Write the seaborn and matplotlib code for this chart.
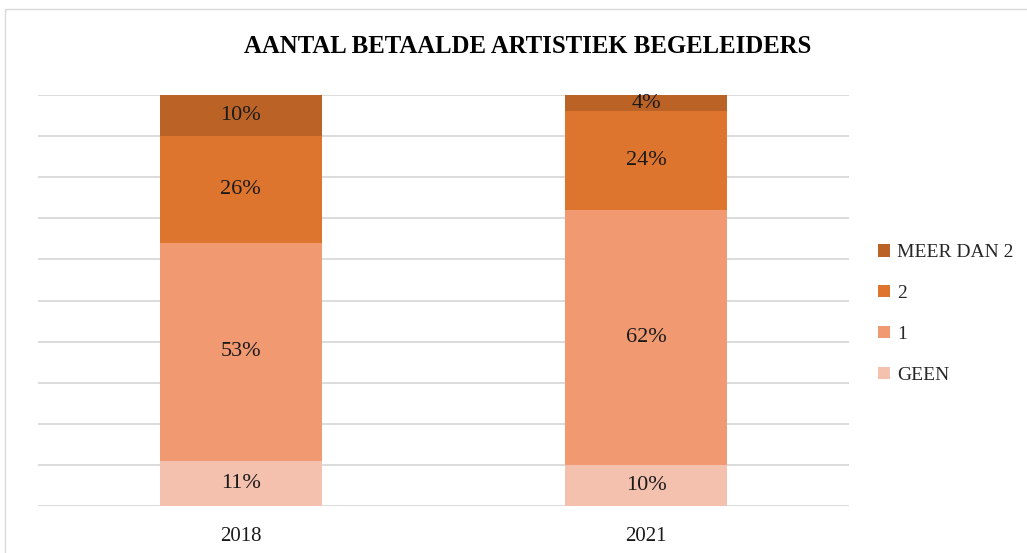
import matplotlib
matplotlib.use("Agg")
import matplotlib.pyplot as plt
import seaborn as sns
import pandas as pd
import numpy as np
from matplotlib.patches import Rectangle

years = ["2018", "2021"]
series = ["GEEN", "1", "2", "MEER DAN 2"]
geen = [11, 10]
een = [53, 62]
twee = [26, 24]
meer = [10, 4]
colors = ["#F5C1AF", "#F19A72", "#DE752F", "#BB6226"]

sns.set_theme(style="white")
plt.rcParams['font.family'] = ['Liberation Serif', 'DejaVu Serif']

fig = plt.figure(figsize=(10.27, 5.53), dpi=100)
ax = fig.add_axes([38/1027, 47/553, (849-38)/1027, (506-95)/553])

df = pd.DataFrame({"year": years, "GEEN": geen, "1": een, "2": twee, "MEER DAN 2": meer})
vals = df[series].to_numpy(dtype=float)
cum = np.cumsum(vals, axis=1)

# draw cumulative bars from the top series down so each layer covers the one beneath
for j in range(len(series) - 1, -1, -1):
    sns.barplot(x=df["year"], y=cum[:, j], color=colors[j], width=0.4, saturation=1,
                label=series[j], ax=ax, zorder=3, linewidth=0)

if ax.get_legend() is not None:
    ax.get_legend().remove()

for i in range(len(years)):
    for j in range(len(series)):
        v = vals[i, j]
        b = cum[i, j] - v
        ax.text(i, b + v / 2, f"{int(v)}%", ha="center", va="center", fontsize=16,
                color="#1a1a1a", zorder=4)

ax.set_xlim(-0.5, 1.5)
ax.set_ylim(0, 100)
ax.set_yticks(np.arange(0, 101, 10))
ax.yaxis.grid(True, color="#d9d9d9", linewidth=1.3, zorder=0)
ax.set_axisbelow(True)
ax.set_yticklabels([])
ax.set_xlabel("")
ax.set_ylabel("")
ax.tick_params(axis="y", length=0)
ax.set_xticks(range(len(years)))
ax.set_xticklabels(years, fontsize=15, color="#1a1a1a")
ax.tick_params(axis="x", length=0, pad=15)
for sp in ax.spines.values():
    sp.set_visible(False)

fig.text(528/1027, 1 - 47/553, "AANTAL BETAALDE ARTISTIEK BEGELEIDERS", ha="center", va="center",
         fontsize=17.8, fontweight="bold", color="#000000")

h, l = ax.get_legend_handles_labels()
leg = fig.legend(h, l, loc="center left", bbox_to_anchor=(878/1027, 1 - 314/553), frameon=False,
                 fontsize=14, handlelength=0.6, handleheight=0.6, handletextpad=0.4,
                 labelspacing=1.22, borderaxespad=0, borderpad=0)

fig.patches.append(Rectangle((5/1027, -0.1), 1.2, 1 - 9/553 + 0.1, transform=fig.transFigure,
                             fill=False, edgecolor="#d9d9d9", linewidth=1))

fig.savefig("out.png", dpi=100)
